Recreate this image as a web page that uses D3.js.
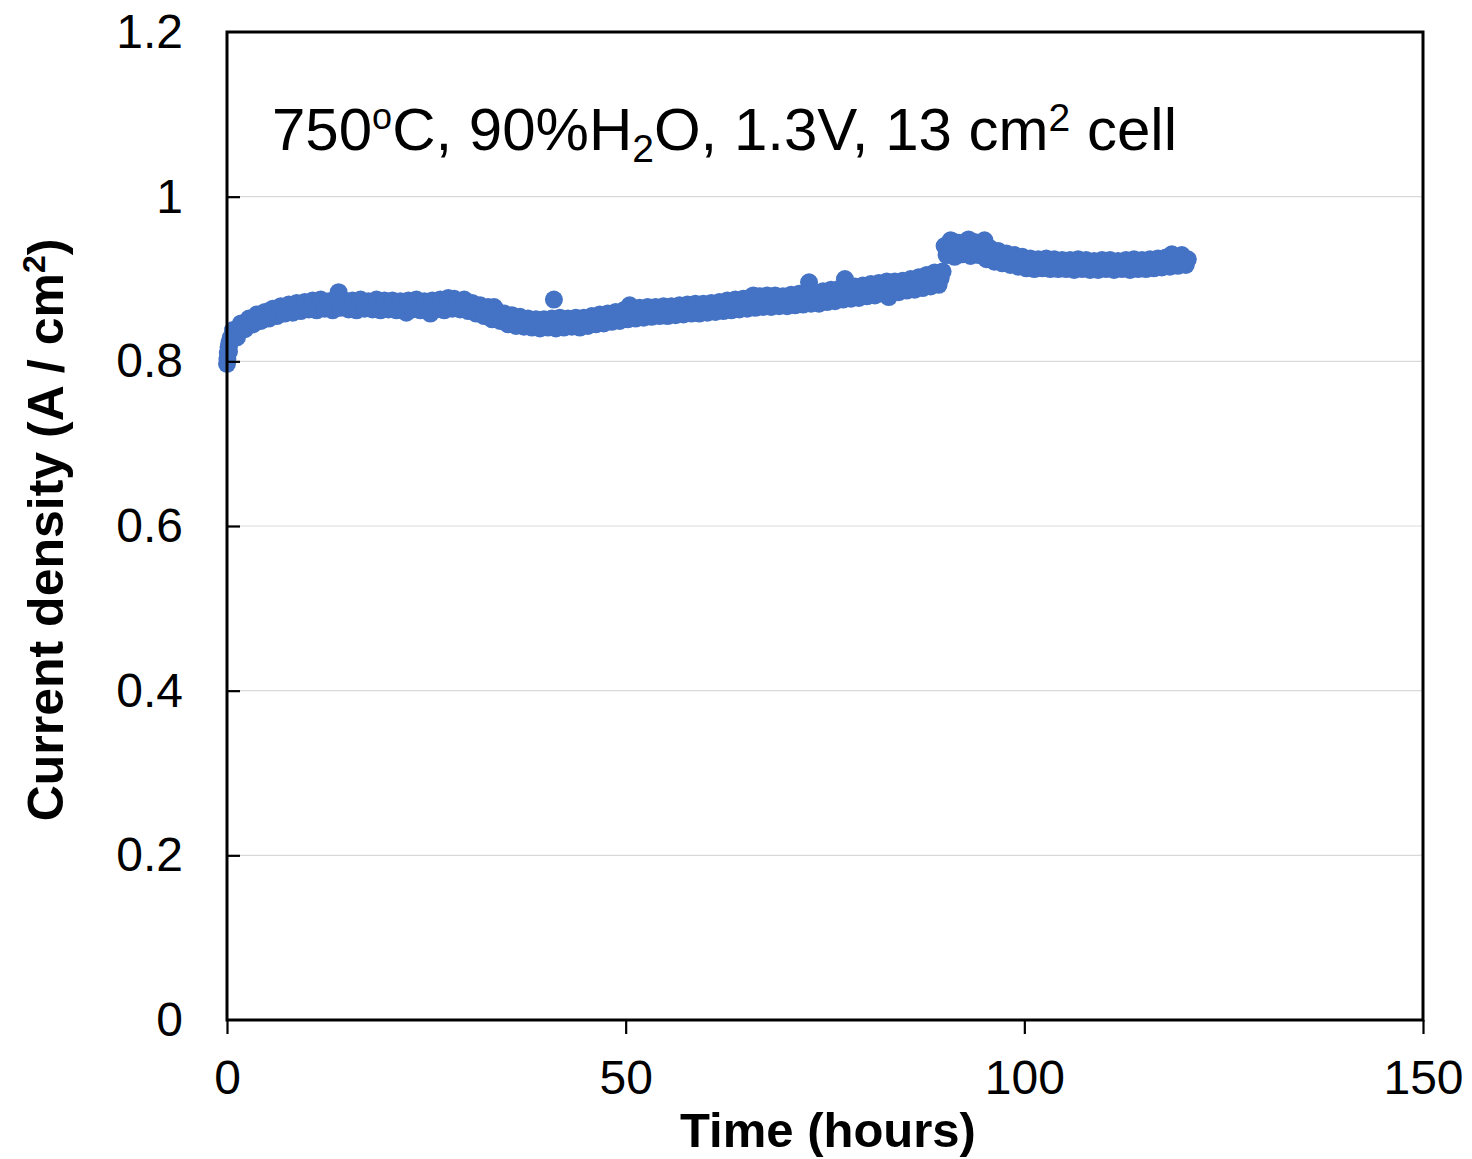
<!DOCTYPE html>
<html>
<head>
<meta charset="utf-8">
<script src="https://cdn.jsdelivr.net/npm/d3@7"></script>
<style>
  html,body{margin:0;padding:0;background:#fff;}
  svg{display:block;font-family:"Liberation Sans",Arial,Helvetica,sans-serif;}
</style>
</head>
<body>
<svg id="chart" width="1472" height="1159"></svg>
<script>
// time (hours) and current density (A/cm2)
// readings on the half hour
const hours = [
  0, 0.05, 0.1, 0.2, 0.3, 0.4,
  0.5, 1, 1.5, 2, 2.5, 3, 3.5, 4, 4.5,
  5, 5.5, 6, 6.5, 7, 7.5, 8, 8.5, 9, 9.5,
  10, 10.5, 11, 11.5, 12, 12.5, 13, 13.5, 14, 14.5,
  15, 15.5, 16, 16.5, 17, 17.5, 18, 18.5, 19, 19.5,
  20, 20.5, 21, 21.5, 22, 22.5, 23, 23.5, 24, 24.5,
  25, 25.5, 26, 26.5, 27, 27.5, 28, 28.5, 29, 29.5,
  30, 30.5, 31, 31.5, 32, 32.5, 33, 33.5, 34, 34.5,
  35, 35.5, 36, 36.5, 37, 37.5, 38, 38.5, 39, 39.5,
  40, 40.5, 41, 41.5, 42, 42.5, 43, 43.5, 44, 44.5,
  45, 45.5, 46, 46.5, 47, 47.5, 48, 48.5, 49, 49.5,
  50, 50.5, 51, 51.5, 52, 52.5, 53, 53.5, 54, 54.5,
  55, 55.5, 56, 56.5, 57, 57.5, 58, 58.5, 59, 59.5,
  60, 60.5, 61, 61.5, 62, 62.5, 63, 63.5, 64, 64.5,
  65, 65.5, 66, 66.5, 67, 67.5, 68, 68.5, 69, 69.5,
  70, 70.5, 71, 71.5, 72, 72.5, 73, 73.5, 74, 74.5,
  75, 75.5, 76, 76.5, 77, 77.5, 78, 78.5, 79, 79.5,
  80, 80.5, 81, 81.5, 82, 82.5, 83, 83.5, 84, 84.5,
  85, 85.5, 86, 86.5, 87, 87.5, 88, 88.5, 89, 89.5,
  90, 90.5, 91, 91.5, 92, 92.5, 93, 93.5, 94, 94.5,
  95, 95.5, 96, 96.5, 97, 97.5, 98, 98.5, 99, 99.5,
  100, 100.5, 101, 101.5, 102, 102.5, 103, 103.5, 104, 104.5,
  105, 105.5, 106, 106.5, 107, 107.5, 108, 108.5, 109, 109.5,
  110, 110.5, 111, 111.5, 112, 112.5, 113, 113.5, 114, 114.5,
  115, 115.5, 116, 116.5, 117, 117.5, 118, 118.5, 119, 119.5,
  120, 120.5
];
const density = [
  0.797, 0.803, 0.810, 0.817, 0.822, 0.826,
  0.829, 0.833, 0.838, 0.842, 0.845, 0.849, 0.851, 0.853, 0.855,
  0.857, 0.856, 0.859, 0.861, 0.860, 0.863, 0.862, 0.865, 0.866, 0.864,
  0.868, 0.870, 0.867, 0.871, 0.869, 0.866, 0.870, 0.868, 0.884, 0.871,
  0.869, 0.866, 0.870, 0.868, 0.871, 0.867, 0.869, 0.866, 0.870, 0.868,
  0.867, 0.870, 0.868, 0.865, 0.869, 0.859, 0.867, 0.870, 0.866, 0.869,
  0.868, 0.858, 0.871, 0.867, 0.869, 0.873, 0.866, 0.876, 0.870, 0.868,
  0.866, 0.869, 0.862, 0.864, 0.858, 0.861, 0.855, 0.866, 0.852, 0.855,
  0.851, 0.853, 0.848, 0.850, 0.847, 0.849, 0.845, 0.848, 0.846, 0.844,
  0.847, 0.845, 0.875, 0.848, 0.846, 0.849, 0.845, 0.847, 0.849, 0.846,
  0.850, 0.848, 0.851, 0.849, 0.853, 0.851, 0.855, 0.852, 0.854, 0.857,
  0.856, 0.868, 0.858, 0.855, 0.860, 0.857, 0.859, 0.862, 0.858, 0.861,
  0.860, 0.863, 0.861, 0.864, 0.862, 0.859, 0.865, 0.863, 0.866, 0.864,
  0.866, 0.863, 0.867, 0.865, 0.869, 0.866, 0.868, 0.871, 0.867, 0.870,
  0.872, 0.869, 0.880, 0.866, 0.874, 0.871, 0.877, 0.869, 0.875, 0.872,
  0.874, 0.871, 0.877, 0.873, 0.876, 0.872, 0.896, 0.878, 0.875, 0.880,
  0.877, 0.881, 0.878, 0.883, 0.880, 0.900, 0.884, 0.882, 0.887, 0.884,
  0.886, 0.883, 0.889, 0.885, 0.888, 0.891, 0.878, 0.889, 0.893, 0.890,
  0.894, 0.891, 0.896, 0.893, 0.899, 0.895, 0.904, 0.898, 0.907, 0.901,
  0.940, 0.930, 0.946, 0.934, 0.943, 0.938, 0.948, 0.936, 0.941, 0.933,
  0.947, 0.931, 0.928, 0.932, 0.925, 0.929, 0.923, 0.927, 0.921, 0.925,
  0.919, 0.923, 0.917, 0.921, 0.918, 0.915, 0.920, 0.916, 0.922, 0.918,
  0.917, 0.920, 0.915, 0.919, 0.916, 0.921, 0.917, 0.914, 0.919, 0.916,
  0.918, 0.915, 0.920, 0.916, 0.919, 0.917, 0.915, 0.921, 0.917, 0.919,
  0.918, 0.916, 0.921, 0.917, 0.920, 0.923, 0.919, 0.930, 0.922, 0.926,
  0.921, 0.924
];
// readings between the half hours (the scatter of the band)
const hoursMid = [
  0.25, 0.75, 1.25, 1.75, 2.25, 2.75, 3.25, 3.75, 4.25, 4.75,
  5.25, 5.75, 6.25, 6.75, 7.25, 7.75, 8.25, 8.75, 9.25, 9.75,
  10.25, 10.75, 11.25, 11.75, 12.25, 12.75, 13.25, 13.75, 14.25, 14.75,
  15.25, 15.75, 16.25, 16.75, 17.25, 17.75, 18.25, 18.75, 19.25, 19.75,
  20.25, 20.75, 21.25, 21.75, 22.25, 22.75, 23.25, 23.75, 24.25, 24.75,
  25.25, 25.75, 26.25, 26.75, 27.25, 27.75, 28.25, 28.75, 29.25, 29.75,
  30.25, 30.75, 31.25, 31.75, 32.25, 32.75, 33.25, 33.75, 34.25, 34.75,
  35.25, 35.75, 36.25, 36.75, 37.25, 37.75, 38.25, 38.75, 39.25, 39.75,
  40.25, 40.75, 41.25, 41.75, 42.25, 42.75, 43.25, 43.75, 44.25, 44.75,
  45.25, 45.75, 46.25, 46.75, 47.25, 47.75, 48.25, 48.75, 49.25, 49.75,
  50.25, 50.75, 51.25, 51.75, 52.25, 52.75, 53.25, 53.75, 54.25, 54.75,
  55.25, 55.75, 56.25, 56.75, 57.25, 57.75, 58.25, 58.75, 59.25, 59.75,
  60.25, 60.75, 61.25, 61.75, 62.25, 62.75, 63.25, 63.75, 64.25, 64.75,
  65.25, 65.75, 66.25, 66.75, 67.25, 67.75, 68.25, 68.75, 69.25, 69.75,
  70.25, 70.75, 71.25, 71.75, 72.25, 72.75, 73.25, 73.75, 74.25, 74.75,
  75.25, 75.75, 76.25, 76.75, 77.25, 77.75, 78.25, 78.75, 79.25, 79.75,
  80.25, 80.75, 81.25, 81.75, 82.25, 82.75, 83.25, 83.75, 84.25, 84.75,
  85.25, 85.75, 86.25, 86.75, 87.25, 87.75, 88.25, 88.75, 89.25, 89.75,
  90.25, 90.75, 91.25, 91.75, 92.25, 92.75, 93.25, 93.75, 94.25, 94.75,
  95.25, 95.75, 96.25, 96.75, 97.25, 97.75, 98.25, 98.75, 99.25, 99.75,
  100.25, 100.75, 101.25, 101.75, 102.25, 102.75, 103.25, 103.75, 104.25, 104.75,
  105.25, 105.75, 106.25, 106.75, 107.25, 107.75, 108.25, 108.75, 109.25, 109.75,
  110.25, 110.75, 111.25, 111.75, 112.25, 112.75, 113.25, 113.75, 114.25, 114.75,
  115.25, 115.75, 116.25, 116.75, 117.25, 117.75, 118.25, 118.75, 119.25, 119.75,
  120.25
];
const densityMid = [
  0.812, 0.838, 0.829, 0.846, 0.839, 0.852, 0.845, 0.857, 0.849, 0.860,
  0.852, 0.864, 0.855, 0.867, 0.858, 0.869, 0.859, 0.871, 0.861, 0.872,
  0.863, 0.874, 0.862, 0.875, 0.864, 0.873, 0.862, 0.876, 0.865, 0.874,
  0.863, 0.874, 0.862, 0.875, 0.864, 0.873, 0.863, 0.875, 0.862, 0.874,
  0.863, 0.874, 0.862, 0.873, 0.861, 0.874, 0.863, 0.875, 0.862, 0.873,
  0.862, 0.874, 0.863, 0.875, 0.862, 0.877, 0.864, 0.874, 0.863, 0.875,
  0.861, 0.871, 0.858, 0.868, 0.855, 0.866, 0.851, 0.862, 0.849, 0.858,
  0.845, 0.856, 0.843, 0.854, 0.842, 0.852, 0.841, 0.851, 0.840, 0.851,
  0.841, 0.852, 0.840, 0.853, 0.841, 0.852, 0.842, 0.853, 0.841, 0.853,
  0.843, 0.855, 0.845, 0.857, 0.846, 0.858, 0.848, 0.860, 0.849, 0.862,
  0.851, 0.863, 0.852, 0.865, 0.853, 0.866, 0.854, 0.866, 0.855, 0.867,
  0.855, 0.867, 0.856, 0.868, 0.857, 0.869, 0.858, 0.870, 0.858, 0.870,
  0.859, 0.871, 0.860, 0.872, 0.861, 0.874, 0.862, 0.875, 0.863, 0.876,
  0.864, 0.878, 0.865, 0.879, 0.866, 0.880, 0.866, 0.880, 0.867, 0.879,
  0.867, 0.881, 0.868, 0.882, 0.869, 0.883, 0.870, 0.884, 0.870, 0.885,
  0.872, 0.887, 0.873, 0.888, 0.875, 0.890, 0.876, 0.891, 0.877, 0.892,
  0.879, 0.894, 0.880, 0.895, 0.882, 0.897, 0.883, 0.897, 0.884, 0.898,
  0.886, 0.900, 0.887, 0.902, 0.889, 0.905, 0.891, 0.908, 0.893, 0.909,
  0.929, 0.947, 0.927, 0.944, 0.930, 0.946, 0.928, 0.945, 0.929, 0.940,
  0.924, 0.937, 0.921, 0.934, 0.919, 0.931, 0.917, 0.929, 0.915, 0.927,
  0.913, 0.925, 0.912, 0.924, 0.913, 0.925, 0.912, 0.924, 0.912, 0.923,
  0.912, 0.923, 0.911, 0.924, 0.912, 0.923, 0.911, 0.922, 0.911, 0.923,
  0.912, 0.923, 0.911, 0.922, 0.912, 0.923, 0.911, 0.924, 0.912, 0.923,
  0.912, 0.924, 0.913, 0.925, 0.914, 0.926, 0.915, 0.927, 0.916, 0.929,
  0.917
];
const xTicks = [0, 50, 100, 150];
const yTicks = [0, 0.2, 0.4, 0.6, 0.8, 1, 1.2];
const yLabels = ["0", "0.2", "0.4", "0.6", "0.8", "1", "1.2"];

(function(){
  const W = 1472, H = 1159;
  const M = {left:227, right:49, top:32, bottom:139};
  const BLUE = "#4472C4";
  const FONT = '"Liberation Sans",Arial,sans-serif';

  const svg = d3.select("#chart");
  const x = d3.scaleLinear().domain([0,150]).range([M.left, W-M.right]);
  const y = d3.scaleLinear().domain([0,1.2]).range([H-M.bottom, M.top]);

  // light horizontal gridlines
  svg.append("g").selectAll("line")
    .data(yTicks.filter(v => v>0 && v<1.2)).enter().append("line")
    .attr("x1", x(0)).attr("x2", x(150))
    .attr("y1", d => y(d)).attr("y2", d => y(d))
    .attr("stroke","#d9d9d9").attr("stroke-width",1.2);

  // data markers
  const pts = hours.map((h,i) => [h, density[i]])
    .concat(hoursMid.map((h,i) => [h, densityMid[i]]));
  svg.append("g").selectAll("circle").data(pts).enter().append("circle")
    .attr("cx", d => x(d[0])).attr("cy", d => y(d[1]))
    .attr("r", 9).attr("fill", BLUE);

  // axes
  const gx = svg.append("g").attr("transform","translate(0,"+y(0)+")")
    .call(d3.axisBottom(x).tickValues(xTicks).tickSize(14).tickSizeOuter(0).tickPadding(26));
  const gy = svg.append("g").attr("transform","translate("+x(0)+",0)")
    .call(d3.axisLeft(y).tickValues(yTicks).tickFormat((d,i) => yLabels[i])
      .tickSize(-13).tickSizeOuter(0).tickPadding(44));
  [gx,gy].forEach(g => {
    g.select(".domain").remove();
    g.selectAll(".tick line").attr("stroke","#000").attr("stroke-width",2.2);
    g.selectAll(".tick text").attr("fill","#000")
      .style("font-size","48px").style("font-family",FONT);
  });
  gy.selectAll(".tick").filter(d => d===0 || d===1.2).select("line").remove();

  // plot frame
  svg.append("rect")
    .attr("x", x(0)).attr("y", y(1.2))
    .attr("width", x(150)-x(0)).attr("height", y(0)-y(1.2))
    .attr("fill","none").attr("stroke","#000").attr("stroke-width",3);

  // axis titles
  svg.append("text")
    .attr("x", (x(0)+x(150))/2+3).attr("y", 1147)
    .attr("text-anchor","middle").attr("font-size",49).attr("font-weight","bold")
    .text("Time (hours)");

  const yt = svg.append("text")
    .attr("transform","translate(63,"+((y(0)+y(1.2))/2+4)+") rotate(-90)")
    .attr("text-anchor","middle").attr("font-size",50).attr("font-weight","bold");
  yt.append("tspan").text("Current density (A / cm");
  yt.append("tspan").attr("font-size",32).attr("dy",-18).text("2");
  yt.append("tspan").attr("dy",18).text(")");

  // condition note
  const note = svg.append("text").attr("x",272).attr("y",150).attr("font-size",60);
  note.append("tspan").text("750");
  note.append("tspan").attr("font-size",36).attr("dy",-21).text("o");
  note.append("tspan").attr("dy",21).text("C, 90%H");
  note.append("tspan").attr("font-size",39).attr("dy",12).text("2");
  note.append("tspan").attr("dy",-12).text("O, 1.3V, 13 cm");
  note.append("tspan").attr("font-size",39).attr("dy",-19).text("2");
  note.append("tspan").attr("dy",19).text(" cell");
})();
</script>
</body>
</html>
